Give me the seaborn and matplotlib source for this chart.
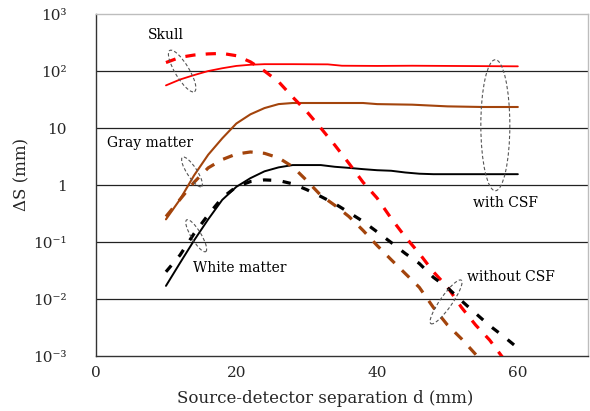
import numpy as np
import pandas as pd
import matplotlib
matplotlib.use("Agg")
import matplotlib.pyplot as plt
from matplotlib.patches import Ellipse
from matplotlib.transforms import ScaledTranslation
import seaborn as sns

# ---------------- data (ΔS in mm vs source-detector separation d in mm) ----------------
skull_csf_x = [10, 12, 14, 16, 18, 20, 22, 24, 28, 33, 35, 40, 45, 50, 55, 60]
skull_csf_y = [56, 71, 85, 100, 112, 123, 129, 132, 132, 131, 124, 123, 124, 123, 122, 121]

gray_csf_x = [10, 12, 14, 16, 18, 20, 22, 24, 26, 28, 30, 35, 38, 40, 45, 50, 55, 60]
gray_csf_y = [0.25, 0.56, 1.48, 3.4, 6.6, 12, 17.4, 22.4, 26.3, 27.5, 27.5, 27.5, 27.5,
              26.3, 25.7, 24, 23.4, 23.4]

white_csf_x = [10, 12, 14, 16, 18, 20, 22, 24, 26, 28, 30, 32, 34, 36, 38, 40, 42, 44,
               46, 48, 50, 55, 60]
white_csf_y = [0.017, 0.043, 0.107, 0.25, 0.55, 0.93, 1.32, 1.74, 2.04, 2.24, 2.24, 2.24,
               2.09, 2.0, 1.9, 1.82, 1.78, 1.66, 1.58, 1.55, 1.55, 1.55, 1.55]

skull_nocsf_x = [10, 12, 14, 16, 18, 20, 22, 24, 26, 28, 30, 32, 34, 36, 38, 40, 42, 44,
                 46, 48, 50, 52, 54, 56, 58]
skull_nocsf_y = [141, 174, 191, 200, 204, 186, 145, 100, 65, 35, 19.5, 10, 5.0, 2.4, 1.12,
                 0.59, 0.26, 0.123, 0.063, 0.030, 0.0162, 0.0071, 0.0035, 0.0019, 0.00089]

gray_nocsf_x = [10, 12, 14, 16, 18, 20, 22, 24, 26, 28, 30, 32, 34, 36, 38, 40, 42, 44,
                46, 48, 50, 52, 54, 56]
gray_nocsf_y = [0.28, 0.56, 1.12, 2.0, 2.8, 3.5, 3.8, 3.6, 3.0, 2.1, 1.2, 0.66, 0.44, 0.28,
                0.16, 0.087, 0.049, 0.028, 0.016, 0.0071, 0.0035, 0.0020, 0.00107, 0.00056]

white_nocsf_x = [10, 12, 14, 16, 18, 20, 22, 24, 26, 28, 30, 32, 34, 36, 38, 40, 42, 44,
                 46, 48, 50, 52, 54, 56, 58, 60]
white_nocsf_y = [0.030, 0.059, 0.141, 0.30, 0.60, 0.93, 1.15, 1.23, 1.20, 1.05, 0.83, 0.63,
                 0.47, 0.33, 0.23, 0.151, 0.098, 0.063, 0.042, 0.024, 0.0158, 0.0093,
                 0.0056, 0.0034, 0.0022, 0.00138]

y_ticks = [1e-3, 1e-2, 1e-1, 1, 10, 1e2, 1e3]
y_tick_labels = ["10\u207b\u00b3", "10\u207b\u00b2", "10\u207b\u00b9", "1", "10",
                 "10\u00b2", "10\u00b3"]
x_ticks = [0, 20, 40, 60]
x_tick_labels = ["0", "20", "40", "60"]

RED = "#ff0000"
BROWN = "#a3440c"
BLACK = "#000000"

# ---------------- figure ----------------
sns.set_style("white")
plt.rcParams["font.family"] = ["DejaVu Serif", "DejaVu Sans"]

fig = plt.figure(figsize=(5.9, 4.11), dpi=100)
ax = fig.add_axes([0.162, 0.1338, 0.835, 0.832])

for y in y_ticks[1:-1]:
    ax.axhline(y, color="#222222", lw=0.9, zorder=1)

series = [
    (skull_csf_x, skull_csf_y, RED, "-", 1.3),
    (gray_csf_x, gray_csf_y, BROWN, "-", 1.5),
    (white_csf_x, white_csf_y, BLACK, "-", 1.4),
    (skull_nocsf_x, skull_nocsf_y, RED, (0, (3.2, 3.2)), 2.3),
    (gray_nocsf_x, gray_nocsf_y, BROWN, (0, (3.2, 3.2)), 2.3),
    (white_nocsf_x, white_nocsf_y, BLACK, (0, (2.6, 3.6)), 2.3),
]
for xs, ys, col, ls, lw in series:
    df = pd.DataFrame({"d": xs, "dS": ys})
    sns.lineplot(data=df, x="d", y="dS", color=col, lw=lw, ax=ax, zorder=3)
    ax.lines[-1].set_linestyle(ls)

ax.set_yscale("log")
ax.set_xlim(0, 70)
ax.set_ylim(1e-3, 1e3)
ax.set_yticks(y_ticks)
ax.set_yticklabels(y_tick_labels)
ax.minorticks_off()
ax.set_xticks(x_ticks)
ax.set_xticklabels(x_tick_labels)
ax.tick_params(axis="y", length=0, pad=21, labelsize=11)
ax.tick_params(axis="x", direction="in", length=5, width=0.9, color="#333333",
               pad=7, labelsize=11)

for s in ["left", "bottom"]:
    ax.spines[s].set_color("#333333")
    ax.spines[s].set_linewidth(1.0)
for s in ["top", "right"]:
    ax.spines[s].set_color("#bdbdbd")
    ax.spines[s].set_linewidth(1.0)

ax.set_xlabel("Source-detector separation d (mm)", fontsize=12)
ax.xaxis.label.set_va("center")
ax.xaxis.set_label_coords(0.467, -0.123)
ax.set_ylabel("\u0394S (mm)", fontsize=12)
ax.yaxis.label.set_va("center")
ax.yaxis.set_label_coords(-0.150, 0.53)

# annotations
txt = dict(fontsize=10, ha="center", va="center", color="black", zorder=5)
ax.text(10.0, 437, "Skull", **txt)
ax.text(7.8, 5.4, "Gray matter", **txt)
ax.text(20.5, 0.0347, "White matter", **txt)
ax.text(58.3, 0.49, "with CSF", **txt)
ax.text(59.0, 0.0246, "without CSF", **txt)

# dashed ellipses (centre in data coords, shape in inches)
ellipses = [
    (12.3, 100, 0.14, 0.48, 31),
    (13.7, 1.7, 0.10, 0.35, 33),
    (14.3, 0.129, 0.10, 0.37, 31),
    (56.8, 11.2, 0.29, 1.31, 0),
    (49.8, 0.0089, 0.12, 0.53, -35),
]
for cx, cy, w, h, ang in ellipses:
    tr = fig.dpi_scale_trans + ScaledTranslation(cx, cy, ax.transData)
    e = Ellipse((0, 0), w, h, angle=ang, transform=tr, fill=False,
                edgecolor="#555555", lw=0.8, ls=(0, (3, 2)), zorder=4)
    ax.add_patch(e)

fig.savefig("out.png", dpi=100)
